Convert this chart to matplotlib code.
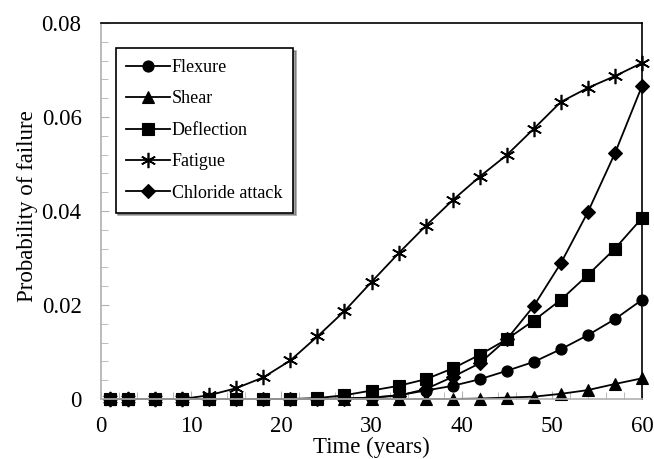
import matplotlib
matplotlib.use("Agg")
import matplotlib.pyplot as plt
from matplotlib.ticker import MultipleLocator, FuncFormatter

plt.rcParams['font.family'] = ['Liberation Serif', 'DejaVu Serif']

years = [1, 3, 6, 9, 12, 15, 18, 21, 24, 27, 30, 33, 36, 39, 42, 45, 48, 51, 54, 57, 60]
flexure = [0, 0, 0, 0, 0, 0, 0, 0, 0, 0.0001, 0.0003, 0.0008, 0.0018, 0.0028, 0.0042,
           0.0060, 0.0079, 0.0106, 0.0136, 0.0170, 0.0211]
shear = [0, 0, 0, 0, 0, 0, 0, 0, 0, 0, 0, 0, 0, 0, 0.0001, 0.0003, 0.0005, 0.0011,
         0.0019, 0.0032, 0.0044]
deflection = [0, 0, 0, 0, 0, 0, 0, 0, 0.0002, 0.0008, 0.0018, 0.0028, 0.0042, 0.0065,
              0.0094, 0.0127, 0.0167, 0.0211, 0.0264, 0.0320, 0.0385]
fatigue = [0, 0, 0, 0, 0.0008, 0.0023, 0.0046, 0.0082, 0.0133, 0.0187, 0.0249, 0.0310,
           0.0368, 0.0423, 0.0473, 0.0519, 0.0575, 0.0632, 0.0662, 0.0687, 0.0715]
chloride = [0, 0, 0, 0, 0, 0, 0, 0, 0, 0.0001, 0.0003, 0.0007, 0.0021, 0.0047, 0.0076,
            0.0127, 0.0198, 0.0289, 0.0398, 0.0523, 0.0666]

series = [
    ("Flexure", flexure, "o", 8),
    ("Shear", shear, "^", 8),
    ("Deflection", deflection, "s", 8),
    ("Fatigue", fatigue, (6, 2, 0), 11),
    ("Chloride attack", chloride, "D", 7),
]

fig = plt.figure(figsize=(6.54, 4.59), dpi=100)
ax = fig.add_axes([0.1544, 0.1307, 0.8273, 0.8193])

for name, vals, mk, ms in series:
    ax.plot(years, vals, color='black', lw=1.3, marker=mk, markersize=ms,
            markeredgewidth=1.2 if mk == (6, 2, 0) else 0.8, label=name, clip_on=False)

ax.set_xlim(0, 60)
ax.set_ylim(0, 0.08)
ax.xaxis.set_major_locator(MultipleLocator(10))
ax.xaxis.set_minor_locator(MultipleLocator(2))
ax.yaxis.set_major_locator(MultipleLocator(0.02))
ax.yaxis.set_minor_locator(MultipleLocator(0.004))
ax.yaxis.set_major_formatter(FuncFormatter(lambda v, p: "0" if v == 0 else f"{v:.2f}"))

for s in ['left', 'bottom']:
    ax.spines[s].set_color('#b0b0b0')
    ax.spines[s].set_linewidth(1.2)
for s in ['top', 'right']:
    ax.spines[s].set_color('black')
    ax.spines[s].set_linewidth(1.2)

ax.tick_params(axis='both', which='both', direction='in', color='#b0b0b0',
               labelsize=16.5)
ax.tick_params(axis='x', which='both', pad=12)
ax.tick_params(axis='y', which='both', pad=14)
ax.tick_params(axis='both', which='major', length=6)
ax.tick_params(axis='both', which='minor', length=5)

ax.set_xlabel("Time (years)", fontsize=16.5, labelpad=0)
ax.set_ylabel("Probability of failure", fontsize=16.5)
ax.yaxis.set_label_coords(-0.117, 0.513)

leg = ax.legend(loc='upper left', bbox_to_anchor=(0.027, 0.933),
                prop={'family': 'Liberation Serif', 'size': 13},
                frameon=True, fancybox=False, shadow=True, edgecolor='black',
                handlelength=2.4, handletextpad=0.1, labelspacing=0.8,
                borderpad=0.6, borderaxespad=0)
leg.get_frame().set_linewidth(1.2)

fig.savefig("out.png", dpi=100)
